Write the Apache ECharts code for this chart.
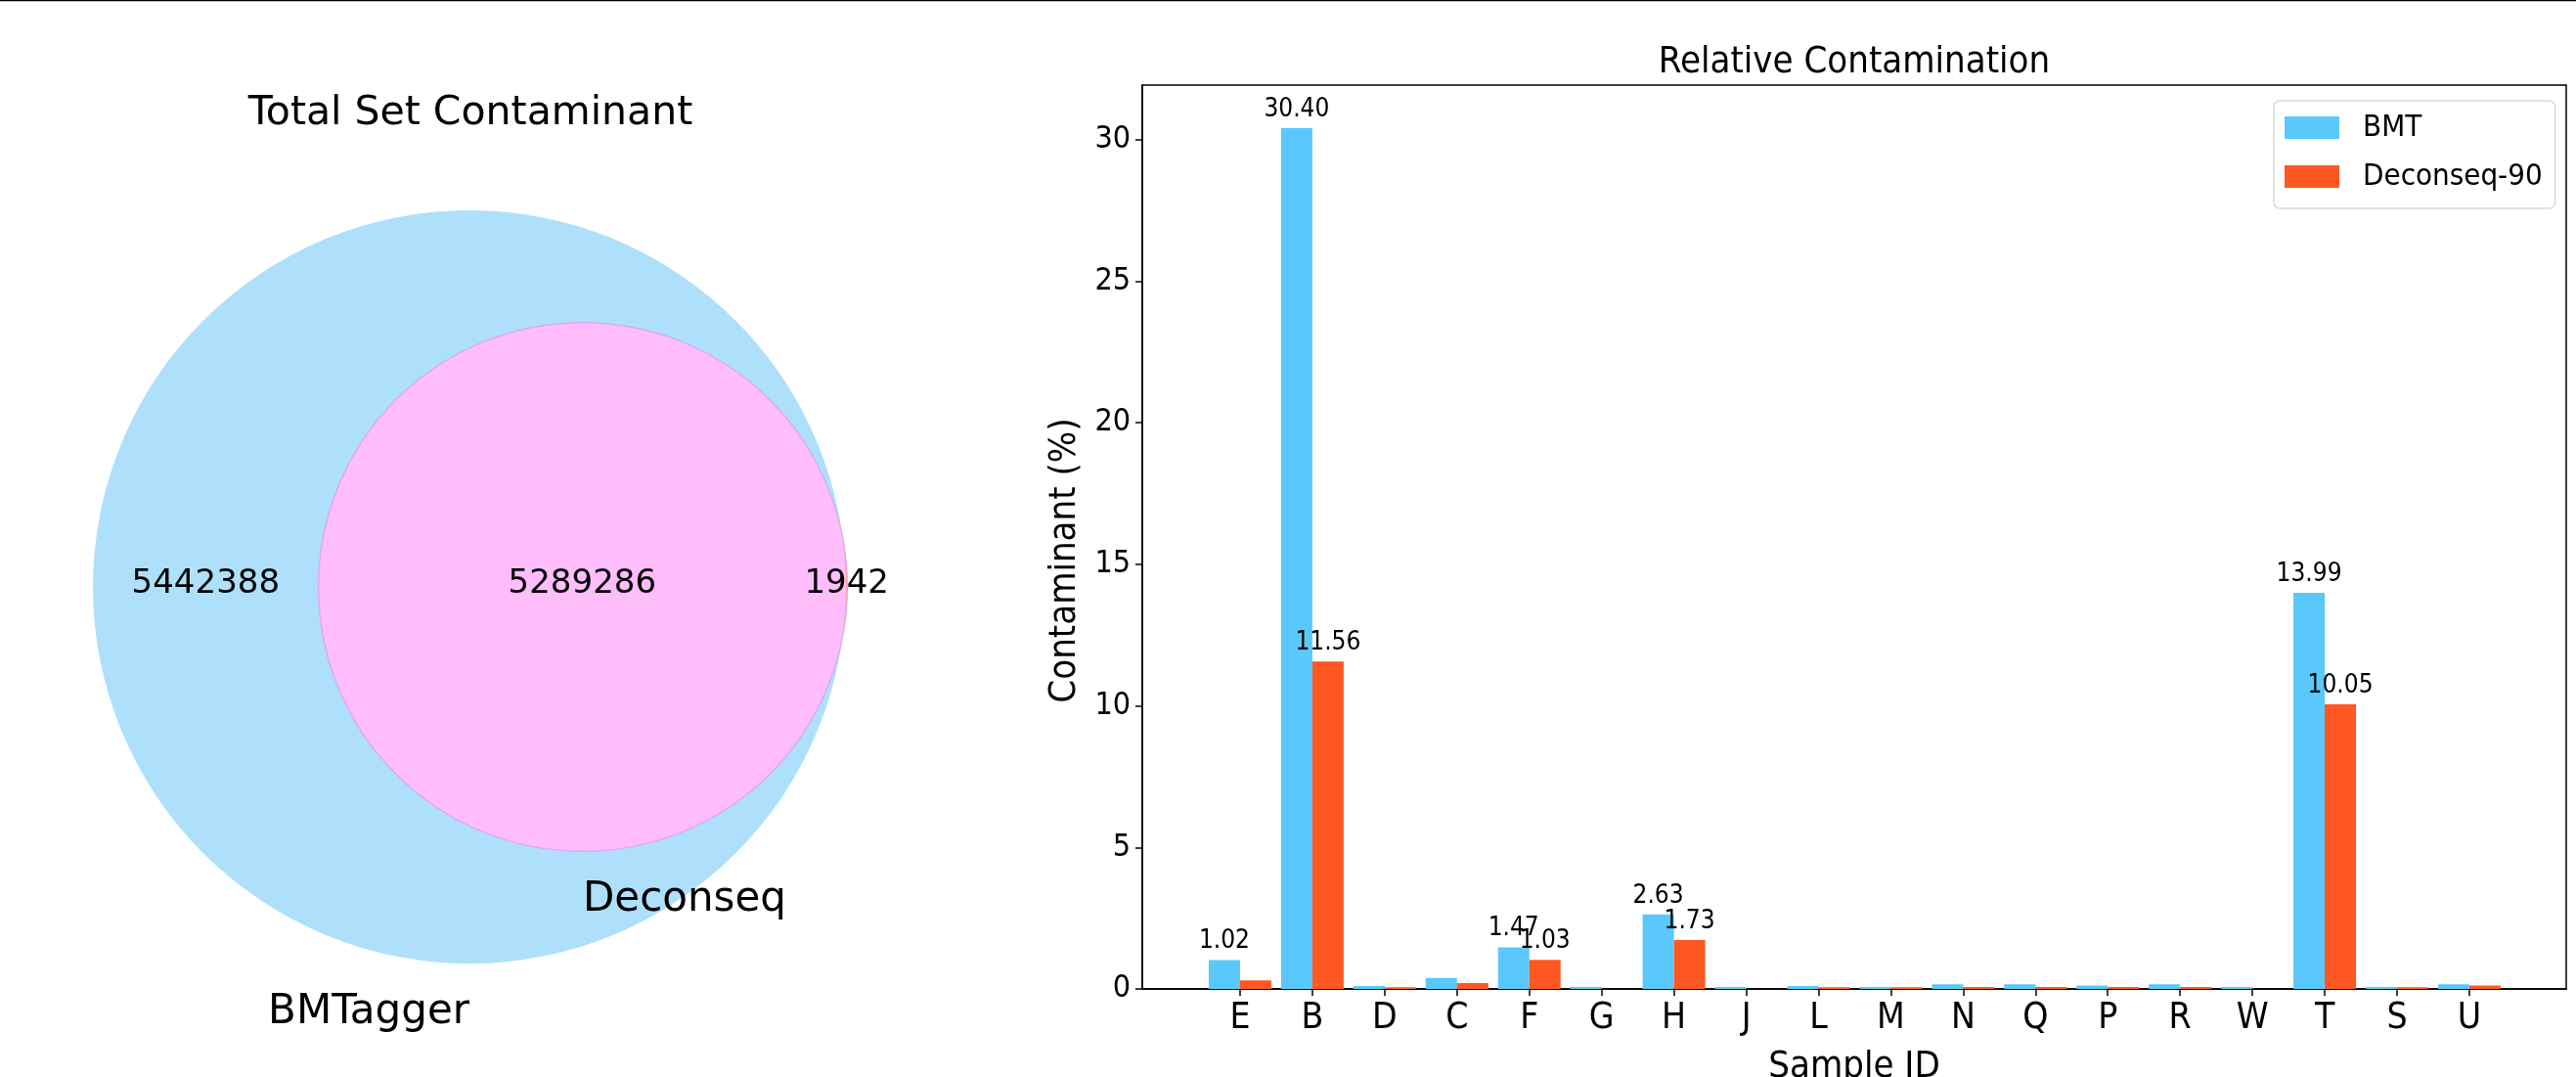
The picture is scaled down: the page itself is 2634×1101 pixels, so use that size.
<!DOCTYPE html>
<html>
<head>
<meta charset="utf-8">
<script src="https://cdn.jsdelivr.net/npm/echarts@6/dist/echarts.min.js"></script>
<style>
  html, body { margin: 0; padding: 0; background: #fff; }
  #chart { width: 2634px; height: 1101px; }
</style>
</head>
<body>
<div id="chart"></div>
<script>
// ---------------- data ----------------
const setNames = ['BMTagger', 'Deconseq'];
const subsetNames = ['BMTagger only', 'Both', 'Deconseq only'];
const subsetSizes = [5442388, 5289286, 1942];

const samples = ['E', 'B', 'D', 'C', 'F', 'G', 'H', 'J', 'L', 'M', 'N', 'Q', 'P', 'R', 'W', 'T', 'S', 'U'];
const bmtValues = [1.02, 30.40, 0.10, 0.39, 1.47, 0.07, 2.63, 0.07, 0.10, 0.07, 0.16, 0.16, 0.12, 0.16, 0.07, 13.99, 0.07, 0.16];
const deconseqValues = [0.30, 11.56, 0.06, 0.21, 1.03, 0.00, 1.73, 0.00, 0.06, 0.06, 0.07, 0.07, 0.07, 0.07, 0.00, 10.05, 0.06, 0.12];
const seriesNames = ['BMT', 'Deconseq-90'];
const yTickValues = [0, 5, 10, 15, 20, 25, 30];

// ---------------- styles ----------------
const CONDENSED = "'DejaVu Sans Condensed', 'Liberation Sans Narrow', 'DejaVu Sans', sans-serif";
const DEJAVU = "'DejaVu Sans', sans-serif";
const BLUE = '#5ac8fa';
const ORANGE = '#ff5722';

// ---------------- Venn geometry (area proportional) ----------------
function lensArea(R, r, d) {
  if (d >= R + r) return 0;
  if (d <= Math.abs(R - r)) return Math.PI * Math.min(R, r) * Math.min(R, r);
  const a1 = Math.acos((d * d + R * R - r * r) / (2 * d * R));
  const a2 = Math.acos((d * d + r * r - R * R) / (2 * d * r));
  return R * R * a1 + r * r * a2 - 0.5 * Math.sqrt((-d + R + r) * (d + R - r) * (d - R + r) * (d + R + r));
}
const sizeA = subsetSizes[0] + subsetSizes[1];
const sizeB = subsetSizes[1] + subsetSizes[2];
const R1 = 1;
const R2 = Math.sqrt(sizeB / sizeA);
const targetArea = Math.PI * subsetSizes[1] / sizeA;
let lo = Math.abs(R1 - R2), hi = R1 + R2;
for (let k = 0; k < 200; k++) {
  const mid = (lo + hi) / 2;
  if (lensArea(R1, R2, mid) > targetArea) lo = mid; else hi = mid;
}
const D = (lo + hi) / 2;
const xi = (D * D + R1 * R1 - R2 * R2) / (2 * D);
const yi = Math.sqrt(Math.max(0, R1 * R1 - xi * xi));
const phiA = Math.atan2(yi, xi);
const thetaB = Math.atan2(yi, xi - D);

function renderVenn(params, api) {
  const unit = api.size([1, 1])[0];
  const cA = api.coord([0, 0]);
  const cB = api.coord([D, 0]);
  const pts = [];
  const N = 80;
  for (let i = 0; i <= N; i++) {
    const t = thetaB - 2 * thetaB * i / N;
    pts.push(api.coord([D + R2 * Math.cos(t), R2 * Math.sin(t)]));
  }
  for (let i = 0; i <= N; i++) {
    const t = -phiA + 2 * phiA * i / N;
    pts.push(api.coord([R1 * Math.cos(t), R1 * Math.sin(t)]));
  }
  const children = [
    { type: 'circle', shape: { cx: cA[0], cy: cA[1], r: R1 * unit }, style: { fill: '#aee0fb' } },
    { type: 'circle', shape: { cx: cB[0], cy: cB[1], r: R2 * unit }, style: { fill: '#ffbdfc', stroke: '#dcaaf5', lineWidth: 1.5 } },
    { type: 'polygon', shape: { points: pts }, style: { fill: '#ffa3a8' } }
  ];
  const labelPos = [
    [(-R1 + (D - R2)) / 2, 0],
    [((D - R2) + R1) / 2, 0],
    [(R1 + (D + R2)) / 2, 0]
  ];
  subsetSizes.forEach(function (v, i) {
    const p = api.coord(labelPos[i]);
    children.push({
      type: 'text', x: p[0], y: p[1] - 3,
      style: { text: String(v), fontSize: 34, fontFamily: DEJAVU, fill: '#000', align: 'center', verticalAlign: 'middle' }
    });
  });
  const pA = api.coord([0, -R1]);
  const pB = api.coord([D, -R2]);
  children.push({
    type: 'text', x: pA[0], y: pA[1] + 29,
    style: { text: setNames[0], fontSize: 42, fontFamily: DEJAVU, fill: '#000', align: 'right', verticalAlign: 'top' }
  });
  children.push({
    type: 'text', x: pB[0], y: pB[1] + 29,
    style: { text: setNames[1], fontSize: 42, fontFamily: DEJAVU, fill: '#000', align: 'left', verticalAlign: 'top' }
  });
  return { type: 'group', children: children };
}

const sampleIdx = samples.map(function (_, i) { return i; });
const labelFmt = function (p) { return p.value[1] >= 1 ? p.value[1].toFixed(2) : ''; };
const barLabel = { show: true, position: 'top', distance: 6, formatter: labelFmt, fontSize: 26, fontFamily: CONDENSED, color: '#000' };

const chart = echarts.init(document.getElementById('chart'), null, { renderer: 'canvas' });
chart.setOption({
  animation: false,
  backgroundColor: '#fff',
  title: [
    { text: 'Total Set Contaminant', left: 481, top: 96, textAlign: 'center', padding: 0,
      textStyle: { fontSize: 41, fontFamily: DEJAVU, fontWeight: 'normal', color: '#000' } },
    { text: 'Relative Contamination', left: 1896, top: 45, textAlign: 'center', padding: 0,
      textStyle: { fontSize: 38, fontFamily: CONDENSED, fontWeight: 'normal', color: '#000' } }
  ],
  legend: {
    data: seriesNames,
    orient: 'vertical',
    align: 'left',
    left: 2325, top: 103,
    padding: [12, 13, 17, 11],
    itemWidth: 56, itemHeight: 23, itemGap: 19,
    icon: 'rect',
    backgroundColor: '#fff',
    borderColor: '#d8d8d8', borderWidth: 1.5, borderRadius: 6,
    textStyle: { fontSize: 31, fontFamily: CONDENSED, color: '#000', padding: [0, 0, 0, 19] }
  },
  graphic: [
    { type: 'line', shape: { x1: 0, y1: 0.5, x2: 2634, y2: 0.5 }, style: { stroke: '#000', lineWidth: 1.5 } }
  ],
  grid: [
    { left: 18, top: 138, width: 924, height: 924, show: false, containLabel: false, outerBoundsMode: 'none' },
    { left: 1168, top: 87, width: 1456, height: 924, show: true, borderColor: '#000', borderWidth: 1.5,
      backgroundColor: 'transparent', containLabel: false, outerBoundsMode: 'none' }
  ],
  xAxis: [
    { gridIndex: 0, type: 'value', min: -1.2, max: 1.2, show: false },
    { gridIndex: 1, type: 'value', min: -1.352, max: 18.34,
      name: 'Sample ID', nameLocation: 'middle', nameGap: 61,
      nameTextStyle: { fontSize: 38, fontFamily: CONDENSED, color: '#000' },
      axisLine: { show: true, onZero: false, lineStyle: { color: '#000', width: 1.5 } },
      axisTick: { show: true, length: 7, lineStyle: { color: '#000', width: 1.5 }, customValues: sampleIdx },
      axisLabel: { customValues: sampleIdx, formatter: function (v) { return samples[Math.round(v)]; },
        fontSize: 37, fontFamily: CONDENSED, color: '#000', margin: 12 },
      splitLine: { show: false } }
  ],
  yAxis: [
    { gridIndex: 0, type: 'value', min: -1.2, max: 1.2, show: false },
    { gridIndex: 1, type: 'value', min: 0, max: 31.92,
      name: 'Contaminant (%)', nameLocation: 'middle', nameGap: 56, nameRotate: 90,
      nameTextStyle: { fontSize: 38, fontFamily: CONDENSED, color: '#000', padding: [0, 48, 0, 0] },
      axisLine: { show: true, onZero: false, lineStyle: { color: '#000', width: 1.5 } },
      axisTick: { show: true, length: 7, lineStyle: { color: '#000', width: 1.5 }, customValues: yTickValues },
      axisLabel: { customValues: yTickValues, fontSize: 32, fontFamily: CONDENSED, color: '#000', margin: 12 },
      splitLine: { show: false } }
  ],
  series: [
    { type: 'custom', name: 'venn', xAxisIndex: 0, yAxisIndex: 0, coordinateSystem: 'cartesian2d',
      clip: false, silent: true, renderItem: renderVenn, data: [[0, 0]] },
    { type: 'bar', name: seriesNames[0], xAxisIndex: 1, yAxisIndex: 1, barWidth: 32, barGap: '0%',
      itemStyle: { color: BLUE }, label: barLabel,
      data: bmtValues.map(function (v, i) { return [i, v]; }) },
    { type: 'bar', name: seriesNames[1], xAxisIndex: 1, yAxisIndex: 1, barWidth: 32, barGap: '0%',
      itemStyle: { color: ORANGE }, label: barLabel,
      data: deconseqValues.map(function (v, i) { return [i, v]; }) }
  ]
});
</script>
</body>
</html>
